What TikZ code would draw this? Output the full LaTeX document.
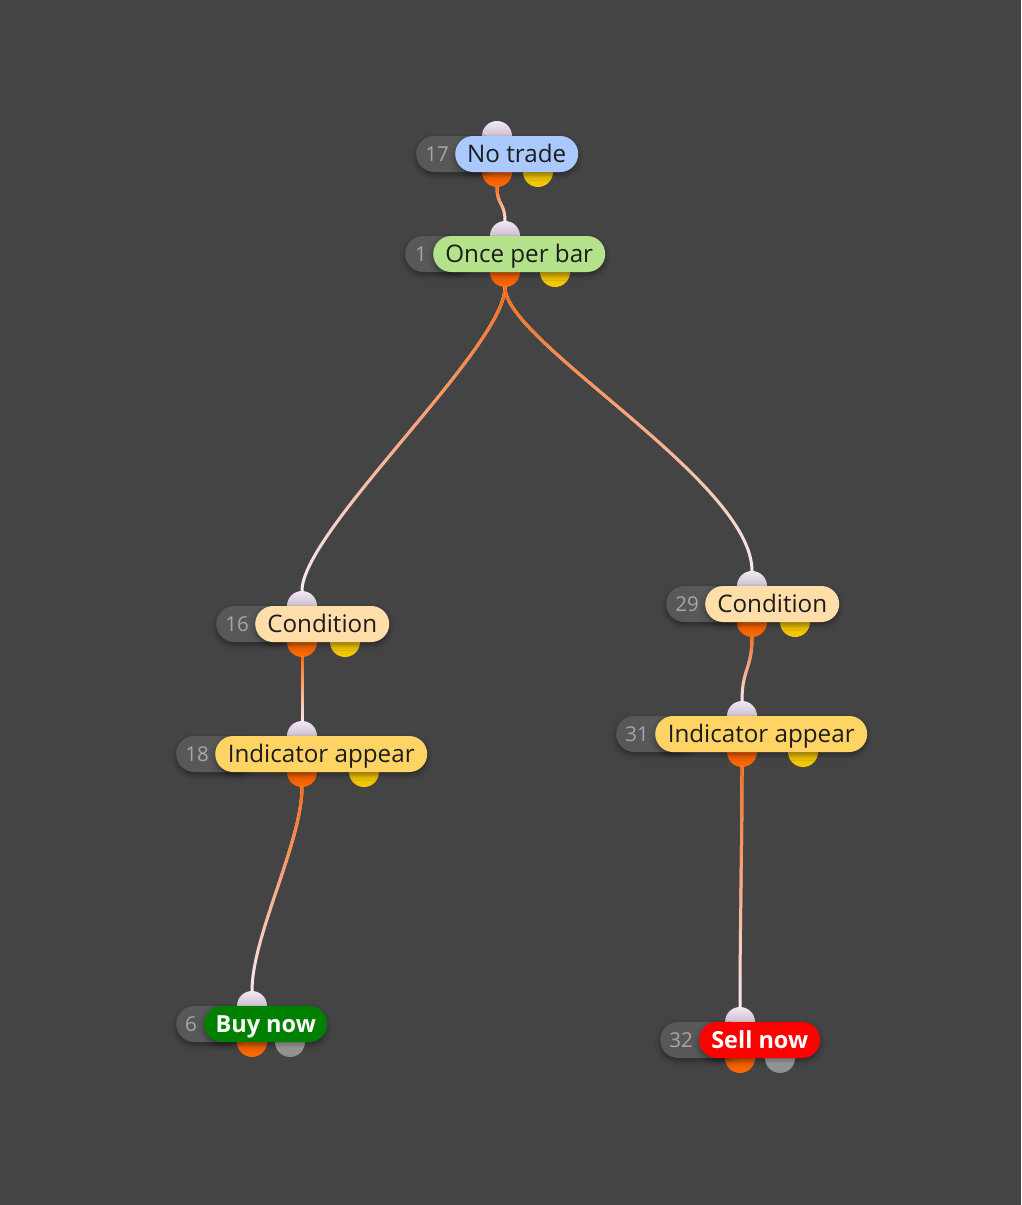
\documentclass[tikz,border=0pt]{standalone}
\usepackage{fontspec}
\setmainfont{Open Sans}
\usetikzlibrary{shapes.misc,fadings,shadows.blur}
\definecolor{bgc}{HTML}{444444}
\definecolor{graypill}{HTML}{585858}
\definecolor{numgray}{HTML}{A6A6A6}
\definecolor{txtdark}{HTML}{1C1C1C}
\definecolor{cblue}{HTML}{A9C9FF}
\definecolor{cgreen}{HTML}{B3E28A}
\definecolor{cpeach}{HTML}{FFDEAA}
\definecolor{cyellow}{HTML}{FFD465}
\definecolor{cbuy}{HTML}{008000}
\definecolor{csell}{HTML}{FF0000}
\definecolor{inTop}{HTML}{F2E8F4}
\definecolor{inBot}{HTML}{A898AA}
\definecolor{orTop}{HTML}{D84E00}
\definecolor{orBot}{HTML}{FF6A00}
\definecolor{yeTop}{HTML}{D4A400}
\definecolor{yeBot}{HTML}{F7CC00}
\definecolor{gyTop}{HTML}{C4C4C4}
\definecolor{gyBot}{HTML}{8A8A8A}
\definecolor{wireStart}{HTML}{FF6A10}
\definecolor{wireEnd}{HTML}{F8ECFA}
\tikzfading[name=wirefade, top color=transparent!0, middle color=transparent!35, bottom color=transparent!100]
\tikzset{
  pill/.style={rounded rectangle, minimum height=36pt, inner sep=0pt, anchor=west,
    text height=17pt, text depth=1pt,
    text=txtdark, font=\fontsize{24.2}{28}\selectfont, blur shadow={shadow xshift=0pt, shadow yshift=-3pt, shadow blur radius=5pt, shadow opacity=40}},
  numpill/.style={rounded rectangle, fill=graypill, minimum height=36pt, inner sep=0pt, anchor=west,
    blur shadow={shadow xshift=0pt, shadow yshift=-3pt, shadow blur radius=5pt, shadow opacity=40}},
  numtxt/.style={text=numgray, font=\fontsize{20.5}{24}\selectfont, inner sep=0pt},
  port/.style={circle, minimum size=30pt, inner sep=0pt},
  inport/.style={port, top color=inTop, bottom color=inBot},
  outport/.style={port, top color=orTop, bottom color=orBot},
  auxport/.style={port, top color=yeTop, bottom color=yeBot},
  offport/.style={port, top color=gyTop, bottom color=gyBot},
  pblue/.style={fill=cblue},
  pgreen/.style={fill=cgreen},
  ppeach/.style={fill=cpeach},
  pyellow/.style={fill=cyellow},
  pbuy/.style={fill=cbuy, text=white, font=\fontsize{23.5}{28}\selectfont\bfseries},
  psell/.style={fill=csell, text=white, font=\fontsize{23.5}{28}\selectfont\bfseries},
  wire/.style={line width=3pt, line cap=round}
}
\begin{document}
\begin{tikzpicture}[x=1pt,y=-1pt]
\fill[bgc] (0,0) rectangle (1021,1205);
\useasboundingbox (0,0) rectangle (1021,1205);
\foreach \id/\gl/\pl/\pr/\yc/\ix/\ob/\obs/\nx/\pf/\lab in {
  17/416/455/578/154/497/538/auxport/437/pblue/No trade,
  1/405/433/605/254/505/555/auxport/421/pgreen/Once per bar,
  16/216/255/389/624/302/345/auxport/237/ppeach/Condition,
  29/666/705/839/604/752/795/auxport/687/ppeach/Condition,
  18/176/215/427/754/302/364/auxport/197/pyellow/Indicator appear,
  31/616/655/867/734/742/803/auxport/637/pyellow/Indicator appear,
  6/176/204/327/1024/252/290/offport/191/pbuy/Buy now,
  32/660/699/820/1040/740/780/offport/681/psell/Sell now}{
  \pgfmathsetmacro\pw{\pr-\pl}
  \pgfmathsetmacro\gw{\pl-\gl+40}
  \node[inport] (n\id-in) at (\ix,\yc-18) {};
  \node[outport] (n\id-out) at (\ix,\yc+18) {};
  \node[\obs] (n\id-aux) at (\ob,\yc+18) {};
  \node[numpill, minimum width=\gw pt] (n\id-box) at (\gl,\yc) {};
  \node[numtxt] (n\id-num) at (\nx,\yc) {\id};
  \node[pill, \pf, minimum width=\pw pt] (n\id) at (\pl,\yc) {\lab};
}
\foreach \a/\b/\d/\e in {17/1/18/18, 1/16/60/60, 1/29/55/90, 16/18/30/30, 29/31/32/32, 18/6/55/55, 31/32/80/80}{
  \draw[wire, wireEnd] (n\a-out.south) .. controls +(0,\d) and +(0,-\e) .. (n\b-in.north);
  \draw[wire, wireStart, path fading=wirefade] (n\a-out.south) .. controls +(0,\d) and +(0,-\e) .. (n\b-in.north);
}
\end{tikzpicture}
\end{document}
